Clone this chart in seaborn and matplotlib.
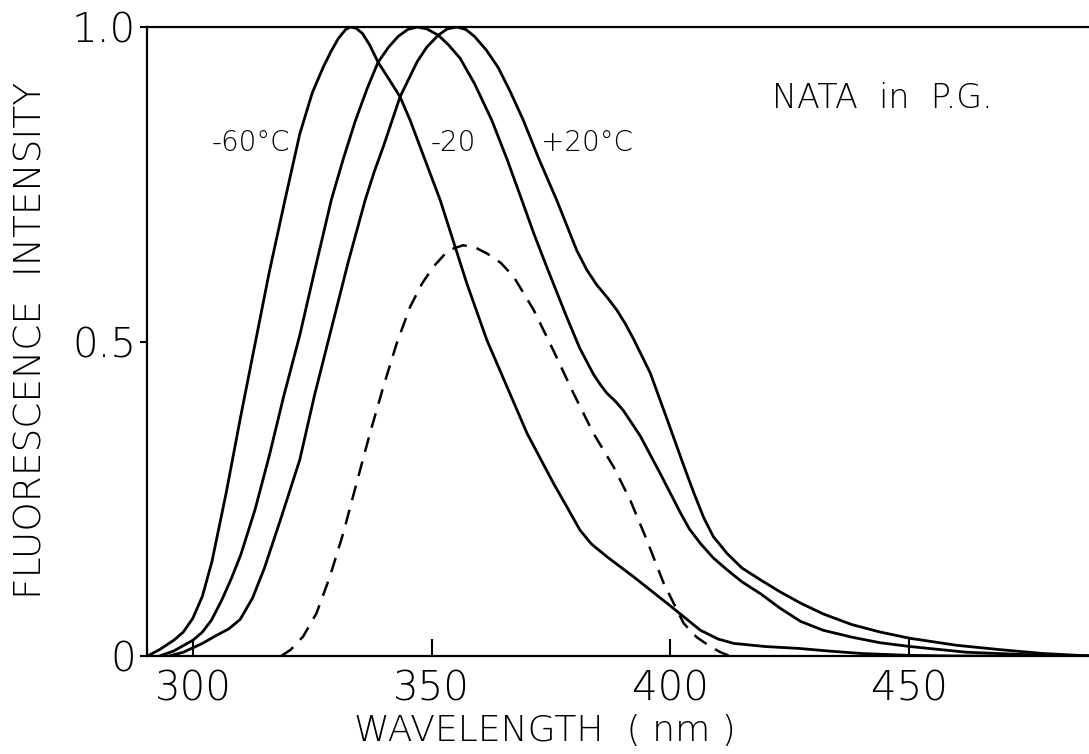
import matplotlib
matplotlib.use("Agg")
import matplotlib.pyplot as plt
import seaborn as sns

# emission spectra of NATA in propylene glycol
wl_m60 = [290.5, 293, 296, 298, 300, 302, 304, 307, 310, 313, 316, 319.3, 322.4, 325,
          327.3, 329, 330.5, 332, 333, 334.2, 335.5, 337, 338.8, 341, 343.4, 345.5,
          351.8, 357.4, 361.6, 365.8, 370, 375.5, 378.5, 381.1, 383.5, 386.7, 392.3,
          399.3, 406.3, 410, 413.3, 420, 427, 433, 440, 450, 460, 488]
int_m60 = [0, 0.01, 0.025, 0.038, 0.06, 0.095, 0.15, 0.26, 0.38, 0.495, 0.61, 0.725,
           0.83, 0.895, 0.936, 0.962, 0.982, 0.996, 1.0, 0.998, 0.99, 0.972, 0.944,
           0.918, 0.889, 0.852, 0.725, 0.592, 0.502, 0.428, 0.354, 0.275, 0.235, 0.2,
           0.178, 0.158, 0.126, 0.084, 0.041, 0.027, 0.02, 0.015, 0.012, 0.008, 0.004,
           0.001, 0.0, 0.0]

wl_m20 = [293, 296, 300, 302, 303.9, 306, 308, 310, 313, 316, 319, 322.4, 325.5, 329,
          331.5, 334, 336.5, 338.8, 341, 343, 345, 347, 349, 351.4, 353.5, 356, 359,
          362.6, 365.8, 368.9, 371.5, 374.1, 378.3, 381, 383.9, 385.3, 386.7, 388.5,
          390.2, 393.7, 397.9, 402.1, 404, 406.3, 409, 411.9, 415, 418.9, 423, 427.3,
          432, 438, 444, 450.3, 462, 475, 488]
int_m20 = [0, 0.008, 0.025, 0.038, 0.057, 0.088, 0.122, 0.16, 0.232, 0.318, 0.412, 0.51,
           0.612, 0.725, 0.79, 0.85, 0.902, 0.944, 0.968, 0.985, 0.996, 1.0, 0.997, 0.987,
           0.972, 0.95, 0.91, 0.852, 0.79, 0.725, 0.67, 0.619, 0.539, 0.49, 0.448, 0.432,
           0.418, 0.405, 0.39, 0.35, 0.29, 0.228, 0.202, 0.179, 0.156, 0.137, 0.118, 0.099,
           0.076, 0.055, 0.041, 0.03, 0.021, 0.015, 0.006, 0.002, 0.0]

wl_p20 = [295, 298, 302, 305, 307.5, 309.9, 312.5, 315, 318.5, 322.4, 325.5, 329, 332.5,
          336.1, 338, 340, 343.4, 347, 349, 351.4, 353.3, 355.3, 357.2, 359, 361.5, 364,
          366.5, 369.2, 372.5, 376.2, 380.4, 382.5, 384.6, 386.8, 388.8, 390.6, 392.3,
          395.8, 399.3, 402.8, 405, 407, 409, 411.9, 415, 418.9, 423, 427.3, 432, 438,
          444, 450.3, 460, 469.2, 478, 488]
int_p20 = [0, 0.006, 0.02, 0.033, 0.043, 0.058, 0.092, 0.14, 0.22, 0.312, 0.415, 0.52,
           0.625, 0.725, 0.77, 0.812, 0.889, 0.945, 0.968, 0.987, 0.997, 1.0, 0.996, 0.985,
           0.963, 0.935, 0.897, 0.852, 0.79, 0.725, 0.645, 0.614, 0.59, 0.57, 0.55,
           0.528, 0.504, 0.45, 0.377, 0.303, 0.258, 0.22, 0.19, 0.163, 0.14, 0.121,
           0.102, 0.084, 0.067, 0.05, 0.038, 0.028, 0.017, 0.01, 0.004, 0.0]

wl_dash = [318.5, 320.5, 323.1, 325.9, 328.7, 331.5, 334.3, 337.1, 339.9, 342.7, 345.5,
           348, 350.4, 353.5, 356.6, 359, 361.6, 364.5, 367.2, 371.4, 375.5, 379.7, 383.9,
           388.1, 391.6, 395.1, 398.6, 402.8, 405.5, 408.4, 410.5, 412.5]
int_dash = [0, 0.01, 0.031, 0.068, 0.126, 0.195, 0.275, 0.354, 0.428, 0.497, 0.555,
            0.592, 0.619, 0.645, 0.653, 0.65, 0.64, 0.625, 0.603, 0.55, 0.486, 0.418,
            0.354, 0.301, 0.248, 0.184, 0.116, 0.052, 0.03, 0.015, 0.006, 0.0]

xticks = [300, 350, 400, 450]
yticks = [0, 0.5, 1.0]
ytick_labels = ["0", "0.5", "1.0"]

sns.set_style("ticks")
plt.rcParams['font.family'] = ['DejaVu Sans']
plt.rcParams['font.weight'] = 'light'
plt.rcParams['text.color'] = 'black'
plt.rcParams['xtick.color'] = 'black'
plt.rcParams['ytick.color'] = 'black'
plt.rcParams['axes.edgecolor'] = 'black'

fig = plt.figure(figsize=(10.89, 7.54), dpi=100)
ax = fig.add_axes([147 / 1089, 98 / 754, 942 / 1089, 629 / 754])

lw = 2.0
sns.lineplot(x=wl_m60, y=int_m60, color='black', lw=lw, sort=False, ax=ax)
sns.lineplot(x=wl_m20, y=int_m20, color='black', lw=lw, sort=False, ax=ax)
sns.lineplot(x=wl_p20, y=int_p20, color='black', lw=lw, sort=False, ax=ax)
sns.lineplot(x=wl_dash, y=int_dash, color='black', lw=1.8, sort=False, ax=ax,
             linestyle=(0, (6, 4)))

ax.set_xlim(290.4, 487.7)
ax.set_ylim(0, 1.0)
ax.set_xticks(xticks)
ax.set_yticks(yticks)
ax.set_yticklabels(ytick_labels)
ax.tick_params(axis='x', direction='in', length=12, width=1.5, pad=10, labelsize=29)
ax.tick_params(axis='y', direction='out', length=5, width=1.5, pad=3, labelsize=29)
ax.spines['right'].set_visible(False)
for s in ['left', 'top', 'bottom']:
    ax.spines[s].set_linewidth(1.6)
ax.set_xlabel('')
ax.set_ylabel('')

ax.text(320.5, 0.815, "-60°C", ha='right', va='center', fontsize=20)
ax.text(349.7, 0.815, "-20", ha='left', va='center', fontsize=20)
ax.text(373.0, 0.815, "+20°C", ha='left', va='center', fontsize=20)
ax.text(421.4, 0.887, "NATA  in  P.G.", ha='left', va='center', fontsize=24)

fig.text(545 / 1089, 1 - 731 / 754, "WAVELENGTH  ( nm )", ha='center', va='center', fontsize=26)
fig.text(31 / 1089, 1 - 340 / 754, "FLUORESCENCE  INTENSITY", ha='center', va='center',
         rotation=90, fontsize=27)

fig.savefig("out.png", dpi=100)
